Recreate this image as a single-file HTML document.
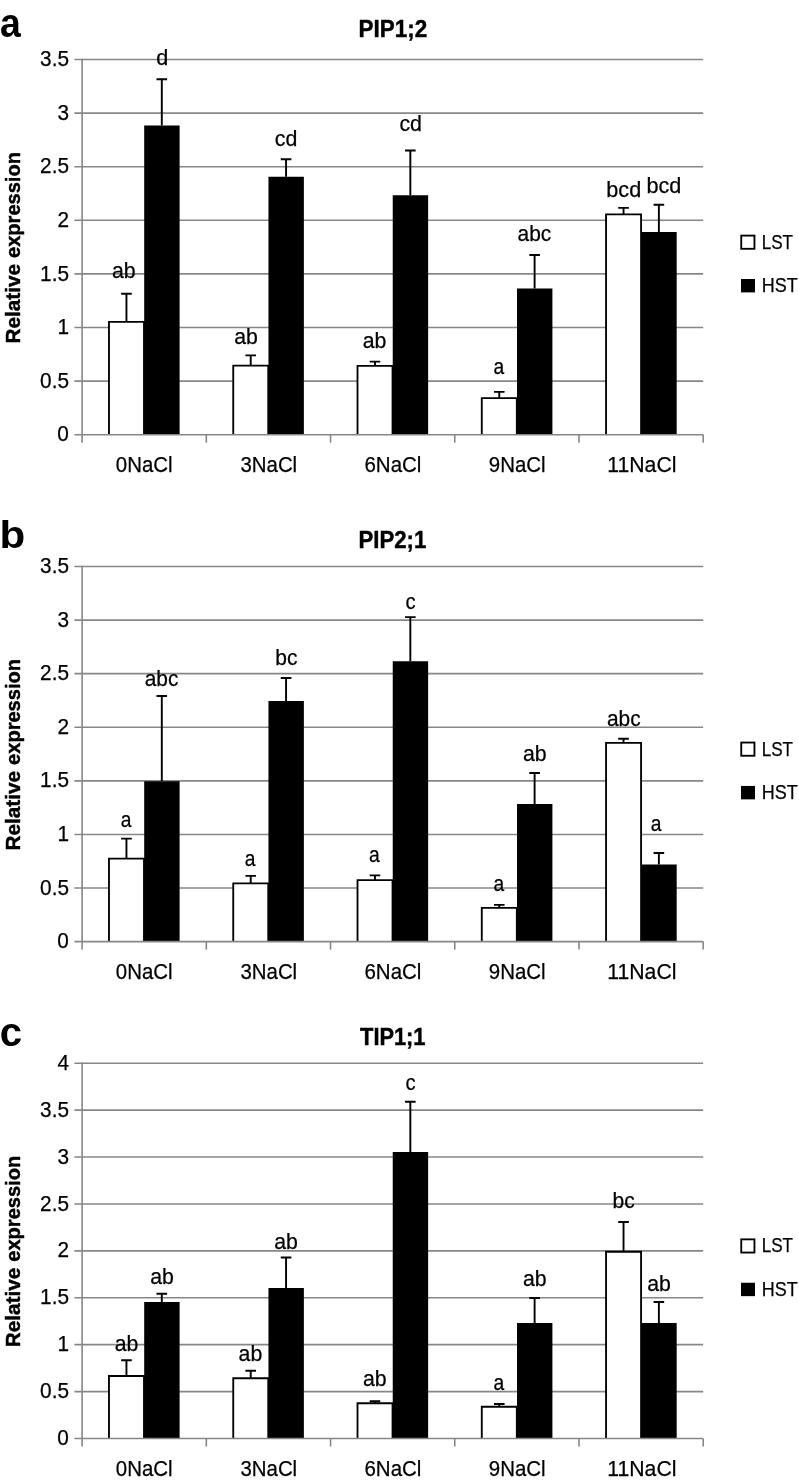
<!DOCTYPE html>
<html lang="en"><head><meta charset="utf-8"><title>Relative expression of PIP1;2, PIP2;1 and TIP1;1</title>
<style>html,body{margin:0;padding:0;background:#fff}svg{display:block;will-change:transform}text{font-family:"Liberation Sans",Arial,Helvetica,sans-serif;fill:#000}.ax{font-size:22px}.lb{font-size:21.6px}.tt{font-size:23.8px;font-weight:bold}.yl{font-size:20.6px;font-weight:bold}.pl{font-size:39.5px;font-weight:bold}.g{stroke:#878787;stroke-width:1.6;fill:none}.e{stroke:#000;stroke-width:1.9;fill:none}.ax,.lb{stroke:#000;stroke-width:.25px}.tt,.yl{stroke:#000;stroke-width:.45px}.w{fill:#fff;stroke:#000;stroke-width:1.85}.k{fill:#000}</style></head><body>
<svg width="799" height="1484" viewBox="0 0 799 1484">
<rect x="0" y="0" width="799" height="1484" fill="#fff"/>
<g id="panel-a">
<path class="g" d="M74.4 59.5H703.2"/>
<text class="ax" x="40.1" y="66.1" textLength="28.91" lengthAdjust="spacingAndGlyphs">3.5</text>
<path class="g" d="M74.4 113.1H703.2"/>
<text class="ax" x="57.47" y="119.7" textLength="11.58" lengthAdjust="spacingAndGlyphs">3</text>
<path class="g" d="M74.4 166.7H703.2"/>
<text class="ax" x="40.1" y="173.3" textLength="28.91" lengthAdjust="spacingAndGlyphs">2.5</text>
<path class="g" d="M74.4 220.3H703.2"/>
<text class="ax" x="57.59" y="226.9" textLength="11.58" lengthAdjust="spacingAndGlyphs">2</text>
<path class="g" d="M74.4 273.9H703.2"/>
<text class="ax" x="40.1" y="280.5" textLength="28.91" lengthAdjust="spacingAndGlyphs">1.5</text>
<path class="g" d="M74.4 327.5H703.2"/>
<text class="ax" x="57.59" y="334.1" textLength="11.58" lengthAdjust="spacingAndGlyphs">1</text>
<path class="g" d="M74.4 381.1H703.2"/>
<text class="ax" x="40.1" y="387.7" textLength="28.91" lengthAdjust="spacingAndGlyphs">0.5</text>
<text class="ax" x="57.35" y="441.3" textLength="11.58" lengthAdjust="spacingAndGlyphs">0</text>
<path class="g" d="M82.1 58.8V442.7"/>
<path class="g" d="M206.32 434.7V442.7"/>
<path class="g" d="M330.54 434.7V442.7"/>
<path class="g" d="M454.76 434.7V442.7"/>
<path class="g" d="M578.98 434.7V442.7"/>
<path class="g" d="M703.2 434.7V442.7"/>
<path class="e" d="M126.45 321.8V293.75M121.15 293.75H131.75"/>
<path class="w" d="M108.97 434.7V321.8H144V434.7"/>
<path class="e" d="M161.8 125.5V79.25M156.5 79.25H167.1"/>
<rect class="k" x="144.2" y="125.5" width="35.4" height="309.2"/>
<path class="e" d="M250.72 365.6V355.4M245.42 355.4H256.02"/>
<path class="w" d="M233.25 434.7V365.6H268.27V434.7"/>
<path class="e" d="M286.07 176.75V159.25M280.77 159.25H291.37"/>
<rect class="k" x="268.47" y="176.75" width="35.4" height="257.95"/>
<path class="e" d="M374.99 365.8V361.6M369.69 361.6H380.29"/>
<path class="w" d="M357.51 434.7V365.8H392.54V434.7"/>
<path class="e" d="M410.34 195.25V150.5M405.04 150.5H415.64"/>
<rect class="k" x="392.74" y="195.25" width="35.4" height="239.45"/>
<path class="e" d="M499.26 398.1V391.9M493.96 391.9H504.56"/>
<path class="w" d="M481.78 434.7V398.1H516.81V434.7"/>
<path class="e" d="M534.61 288.5V255M529.31 255H539.91"/>
<rect class="k" x="517.01" y="288.5" width="35.4" height="146.2"/>
<path class="e" d="M623.53 214.4V207.9M618.23 207.9H628.83"/>
<path class="w" d="M606.05 434.7V214.4H641.08V434.7"/>
<path class="e" d="M658.88 232V204.75M653.58 204.75H664.18"/>
<rect class="k" x="641.28" y="232" width="35.4" height="202.7"/>
<path class="g" d="M74.4 434.7H703.2"/>
<text class="lb" x="111.94" y="278.1" textLength="23.65" lengthAdjust="spacingAndGlyphs">ab</text>
<text class="lb" x="234.19" y="343.5" textLength="23.65" lengthAdjust="spacingAndGlyphs">ab</text>
<text class="lb" x="362.79" y="348.25" textLength="23.65" lengthAdjust="spacingAndGlyphs">ab</text>
<text class="lb" x="493.57" y="373.8" textLength="10.69" lengthAdjust="spacingAndGlyphs">a</text>
<text class="lb" x="606.32" y="196.9" textLength="34.94" lengthAdjust="spacingAndGlyphs">bcd</text>
<text class="lb" x="156.22" y="65" textLength="12.08" lengthAdjust="spacingAndGlyphs">d</text>
<text class="lb" x="274.73" y="145.75" textLength="22.59" lengthAdjust="spacingAndGlyphs">cd</text>
<text class="lb" x="399.38" y="130.5" textLength="22.59" lengthAdjust="spacingAndGlyphs">cd</text>
<text class="lb" x="517.6" y="240.5" textLength="33.71" lengthAdjust="spacingAndGlyphs">abc</text>
<text class="lb" x="646.47" y="192.75" textLength="34.94" lengthAdjust="spacingAndGlyphs">bcd</text>
<text class="ax" x="115.84" y="472.2" textLength="56.72" lengthAdjust="spacingAndGlyphs">0NaCl</text>
<text class="ax" x="240.44" y="472.2" textLength="56.72" lengthAdjust="spacingAndGlyphs">3NaCl</text>
<text class="ax" x="364.45" y="472.2" textLength="56.96" lengthAdjust="spacingAndGlyphs">6NaCl</text>
<text class="ax" x="488.82" y="472.2" textLength="56.84" lengthAdjust="spacingAndGlyphs">9NaCl</text>
<text class="ax" x="607.23" y="472.2" textLength="69.21" lengthAdjust="spacingAndGlyphs">11NaCl</text>
<text class="tt" x="358.57" y="36.5" textLength="68.59" lengthAdjust="spacingAndGlyphs">PIP1;2</text>
<text class="pl" x="-0.04" y="36.5" textLength="20.85" lengthAdjust="spacingAndGlyphs" style="font-size:41.2px">a</text>
<text class="yl" transform="translate(19.9 342.2) rotate(-90)"><tspan x="-1.39" y="0" textLength="79.64" lengthAdjust="spacingAndGlyphs">Relative</tspan> <tspan x="84.27" y="0" textLength="105.85" lengthAdjust="spacingAndGlyphs">expression</tspan></text>
<rect class="w" x="741.25" y="235.6" width="13.2" height="13.2"/>
<text class="ax" x="761.78" y="248.7" textLength="31.24" lengthAdjust="spacingAndGlyphs" style="font-size:21px">LST</text>
<rect class="k" x="741" y="279" width="14" height="13.4"/>
<text class="ax" x="761.7" y="292" textLength="35.92" lengthAdjust="spacingAndGlyphs" style="font-size:21px">HST</text>
</g>
<g id="panel-b">
<path class="g" d="M74.4 566.5H703.2"/>
<text class="ax" x="40.1" y="573.1" textLength="28.91" lengthAdjust="spacingAndGlyphs">3.5</text>
<path class="g" d="M74.4 620.09H703.2"/>
<text class="ax" x="57.47" y="626.69" textLength="11.58" lengthAdjust="spacingAndGlyphs">3</text>
<path class="g" d="M74.4 673.67H703.2"/>
<text class="ax" x="40.1" y="680.27" textLength="28.91" lengthAdjust="spacingAndGlyphs">2.5</text>
<path class="g" d="M74.4 727.26H703.2"/>
<text class="ax" x="57.59" y="733.86" textLength="11.58" lengthAdjust="spacingAndGlyphs">2</text>
<path class="g" d="M74.4 780.84H703.2"/>
<text class="ax" x="40.1" y="787.44" textLength="28.91" lengthAdjust="spacingAndGlyphs">1.5</text>
<path class="g" d="M74.4 834.43H703.2"/>
<text class="ax" x="57.59" y="841.03" textLength="11.58" lengthAdjust="spacingAndGlyphs">1</text>
<path class="g" d="M74.4 888.01H703.2"/>
<text class="ax" x="40.1" y="894.61" textLength="28.91" lengthAdjust="spacingAndGlyphs">0.5</text>
<text class="ax" x="57.35" y="948.2" textLength="11.58" lengthAdjust="spacingAndGlyphs">0</text>
<path class="g" d="M82.1 565.8V949.6"/>
<path class="g" d="M206.32 941.6V949.6"/>
<path class="g" d="M330.54 941.6V949.6"/>
<path class="g" d="M454.76 941.6V949.6"/>
<path class="g" d="M578.98 941.6V949.6"/>
<path class="g" d="M703.2 941.6V949.6"/>
<path class="e" d="M126.45 858.6V838.6M121.15 838.6H131.75"/>
<path class="w" d="M108.97 941.6V858.6H144V941.6"/>
<path class="e" d="M161.8 781.25V696M156.5 696H167.1"/>
<rect class="k" x="144.2" y="781.25" width="35.4" height="160.35"/>
<path class="e" d="M250.72 883.4V875.9M245.42 875.9H256.02"/>
<path class="w" d="M233.25 941.6V883.4H268.27V941.6"/>
<path class="e" d="M286.07 701V678M280.77 678H291.37"/>
<rect class="k" x="268.47" y="701" width="35.4" height="240.6"/>
<path class="e" d="M374.99 880.1V875.4M369.69 875.4H380.29"/>
<path class="w" d="M357.51 941.6V880.1H392.54V941.6"/>
<path class="e" d="M410.34 661.25V617.1M405.04 617.1H415.64"/>
<rect class="k" x="392.74" y="661.25" width="35.4" height="280.35"/>
<path class="e" d="M499.26 907.9V904.9M493.96 904.9H504.56"/>
<path class="w" d="M481.78 941.6V907.9H516.81V941.6"/>
<path class="e" d="M534.61 804V773M529.31 773H539.91"/>
<rect class="k" x="517.01" y="804" width="35.4" height="137.6"/>
<path class="e" d="M623.53 742.9V738.75M618.23 738.75H628.83"/>
<path class="w" d="M606.05 941.6V742.9H641.08V941.6"/>
<path class="e" d="M658.88 864.5V853M653.58 853H664.18"/>
<rect class="k" x="641.28" y="864.5" width="35.4" height="77.1"/>
<path class="g" d="M74.4 941.6H703.2"/>
<text class="lb" x="120.87" y="826.8" textLength="10.69" lengthAdjust="spacingAndGlyphs">a</text>
<text class="lb" x="244.67" y="866.25" textLength="10.69" lengthAdjust="spacingAndGlyphs">a</text>
<text class="lb" x="369.02" y="862" textLength="10.69" lengthAdjust="spacingAndGlyphs">a</text>
<text class="lb" x="493.52" y="891" textLength="10.69" lengthAdjust="spacingAndGlyphs">a</text>
<text class="lb" x="607" y="725.75" textLength="33.71" lengthAdjust="spacingAndGlyphs">abc</text>
<text class="lb" x="144.75" y="685.75" textLength="33.71" lengthAdjust="spacingAndGlyphs">abc</text>
<text class="lb" x="275.26" y="665" textLength="22.18" lengthAdjust="spacingAndGlyphs">bc</text>
<text class="lb" x="405.38" y="609.25" textLength="10.13" lengthAdjust="spacingAndGlyphs">c</text>
<text class="lb" x="522.94" y="760.5" textLength="23.65" lengthAdjust="spacingAndGlyphs">ab</text>
<text class="lb" x="650.87" y="830.5" textLength="10.69" lengthAdjust="spacingAndGlyphs">a</text>
<text class="ax" x="115.84" y="979.1" textLength="56.72" lengthAdjust="spacingAndGlyphs">0NaCl</text>
<text class="ax" x="240.44" y="979.1" textLength="56.72" lengthAdjust="spacingAndGlyphs">3NaCl</text>
<text class="ax" x="364.45" y="979.1" textLength="56.96" lengthAdjust="spacingAndGlyphs">6NaCl</text>
<text class="ax" x="488.82" y="979.1" textLength="56.84" lengthAdjust="spacingAndGlyphs">9NaCl</text>
<text class="ax" x="607.23" y="979.1" textLength="69.21" lengthAdjust="spacingAndGlyphs">11NaCl</text>
<text class="tt" x="358.59" y="547.8" textLength="67.71" lengthAdjust="spacingAndGlyphs">PIP2;1</text>
<text class="pl" x="-0.6" y="548.1" textLength="25.8" lengthAdjust="spacingAndGlyphs" style="font-size:39.6px">b</text>
<text class="yl" transform="translate(19.9 849.15) rotate(-90)"><tspan x="-1.39" y="0" textLength="79.64" lengthAdjust="spacingAndGlyphs">Relative</tspan> <tspan x="84.27" y="0" textLength="105.85" lengthAdjust="spacingAndGlyphs">expression</tspan></text>
<rect class="w" x="741.25" y="742.55" width="13.2" height="13.2"/>
<text class="ax" x="761.78" y="755.65" textLength="31.24" lengthAdjust="spacingAndGlyphs" style="font-size:21px">LST</text>
<rect class="k" x="741" y="785.95" width="14" height="13.4"/>
<text class="ax" x="761.7" y="798.95" textLength="35.92" lengthAdjust="spacingAndGlyphs" style="font-size:21px">HST</text>
</g>
<g id="panel-c">
<path class="g" d="M74.4 1063.2H703.2"/>
<text class="ax" x="57.61" y="1069.8" textLength="11.58" lengthAdjust="spacingAndGlyphs">4</text>
<path class="g" d="M74.4 1110.11H703.2"/>
<text class="ax" x="40.1" y="1116.71" textLength="28.91" lengthAdjust="spacingAndGlyphs">3.5</text>
<path class="g" d="M74.4 1157.03H703.2"/>
<text class="ax" x="57.47" y="1163.62" textLength="11.58" lengthAdjust="spacingAndGlyphs">3</text>
<path class="g" d="M74.4 1203.94H703.2"/>
<text class="ax" x="40.1" y="1210.54" textLength="28.91" lengthAdjust="spacingAndGlyphs">2.5</text>
<path class="g" d="M74.4 1250.85H703.2"/>
<text class="ax" x="57.59" y="1257.45" textLength="11.58" lengthAdjust="spacingAndGlyphs">2</text>
<path class="g" d="M74.4 1297.76H703.2"/>
<text class="ax" x="40.1" y="1304.36" textLength="28.91" lengthAdjust="spacingAndGlyphs">1.5</text>
<path class="g" d="M74.4 1344.67H703.2"/>
<text class="ax" x="57.59" y="1351.27" textLength="11.58" lengthAdjust="spacingAndGlyphs">1</text>
<path class="g" d="M74.4 1391.59H703.2"/>
<text class="ax" x="40.1" y="1398.19" textLength="28.91" lengthAdjust="spacingAndGlyphs">0.5</text>
<text class="ax" x="57.35" y="1445.1" textLength="11.58" lengthAdjust="spacingAndGlyphs">0</text>
<path class="g" d="M82.1 1062.5V1446.5"/>
<path class="g" d="M206.32 1438.5V1446.5"/>
<path class="g" d="M330.54 1438.5V1446.5"/>
<path class="g" d="M454.76 1438.5V1446.5"/>
<path class="g" d="M578.98 1438.5V1446.5"/>
<path class="g" d="M703.2 1438.5V1446.5"/>
<path class="e" d="M126.45 1376V1360.25M121.15 1360.25H131.75"/>
<path class="w" d="M108.97 1438.5V1376H144V1438.5"/>
<path class="e" d="M161.8 1302V1293.75M156.5 1293.75H167.1"/>
<rect class="k" x="144.2" y="1302" width="35.4" height="136.5"/>
<path class="e" d="M250.72 1378.25V1370.75M245.42 1370.75H256.02"/>
<path class="w" d="M233.25 1438.5V1378.25H268.27V1438.5"/>
<path class="e" d="M286.07 1288V1257.5M280.77 1257.5H291.37"/>
<rect class="k" x="268.47" y="1288" width="35.4" height="150.5"/>
<path class="e" d="M374.99 1403.25V1401.25M369.69 1401.25H380.29"/>
<path class="w" d="M357.51 1438.5V1403.25H392.54V1438.5"/>
<path class="e" d="M410.34 1152V1101.75M405.04 1101.75H415.64"/>
<rect class="k" x="392.74" y="1152" width="35.4" height="286.5"/>
<path class="e" d="M499.26 1406.75V1404M493.96 1404H504.56"/>
<path class="w" d="M481.78 1438.5V1406.75H516.81V1438.5"/>
<path class="e" d="M534.61 1323V1298M529.31 1298H539.91"/>
<rect class="k" x="517.01" y="1323" width="35.4" height="115.5"/>
<path class="e" d="M623.53 1251.75V1222M618.23 1222H628.83"/>
<path class="w" d="M606.05 1438.5V1251.75H641.08V1438.5"/>
<path class="e" d="M658.88 1323V1302M653.58 1302H664.18"/>
<rect class="k" x="641.28" y="1323" width="35.4" height="115.5"/>
<path class="g" d="M74.4 1438.5H703.2"/>
<text class="lb" x="114.79" y="1351.25" textLength="23.65" lengthAdjust="spacingAndGlyphs">ab</text>
<text class="lb" x="238.59" y="1360.75" textLength="23.65" lengthAdjust="spacingAndGlyphs">ab</text>
<text class="lb" x="362.94" y="1385.75" textLength="23.65" lengthAdjust="spacingAndGlyphs">ab</text>
<text class="lb" x="493.52" y="1389.5" textLength="10.69" lengthAdjust="spacingAndGlyphs">a</text>
<text class="lb" x="612.61" y="1208.25" textLength="22.18" lengthAdjust="spacingAndGlyphs">bc</text>
<text class="lb" x="150.29" y="1284.25" textLength="23.65" lengthAdjust="spacingAndGlyphs">ab</text>
<text class="lb" x="274.19" y="1249.25" textLength="23.65" lengthAdjust="spacingAndGlyphs">ab</text>
<text class="lb" x="405.53" y="1089.75" textLength="10.13" lengthAdjust="spacingAndGlyphs">c</text>
<text class="lb" x="522.94" y="1286" textLength="23.65" lengthAdjust="spacingAndGlyphs">ab</text>
<text class="lb" x="647.19" y="1290.75" textLength="23.65" lengthAdjust="spacingAndGlyphs">ab</text>
<text class="ax" x="115.84" y="1476" textLength="56.72" lengthAdjust="spacingAndGlyphs">0NaCl</text>
<text class="ax" x="240.44" y="1476" textLength="56.72" lengthAdjust="spacingAndGlyphs">3NaCl</text>
<text class="ax" x="364.45" y="1476" textLength="56.96" lengthAdjust="spacingAndGlyphs">6NaCl</text>
<text class="ax" x="488.82" y="1476" textLength="56.84" lengthAdjust="spacingAndGlyphs">9NaCl</text>
<text class="ax" x="607.23" y="1476" textLength="69.21" lengthAdjust="spacingAndGlyphs">11NaCl</text>
<text class="tt" x="360.07" y="1044.8" textLength="65.44" lengthAdjust="spacingAndGlyphs">TIP1;1</text>
<text class="pl" x="-0.17" y="1045.5" textLength="22.35" lengthAdjust="spacingAndGlyphs" style="font-size:41.5px">c</text>
<text class="yl" transform="translate(19.9 1345.95) rotate(-90)"><tspan x="-1.39" y="0" textLength="79.64" lengthAdjust="spacingAndGlyphs">Relative</tspan> <tspan x="84.27" y="0" textLength="105.85" lengthAdjust="spacingAndGlyphs">expression</tspan></text>
<rect class="w" x="741.25" y="1239.35" width="13.2" height="13.2"/>
<text class="ax" x="761.78" y="1252.45" textLength="31.24" lengthAdjust="spacingAndGlyphs" style="font-size:21px">LST</text>
<rect class="k" x="741" y="1282.75" width="14" height="13.4"/>
<text class="ax" x="761.7" y="1295.75" textLength="35.92" lengthAdjust="spacingAndGlyphs" style="font-size:21px">HST</text>
</g>
</svg></body></html>
